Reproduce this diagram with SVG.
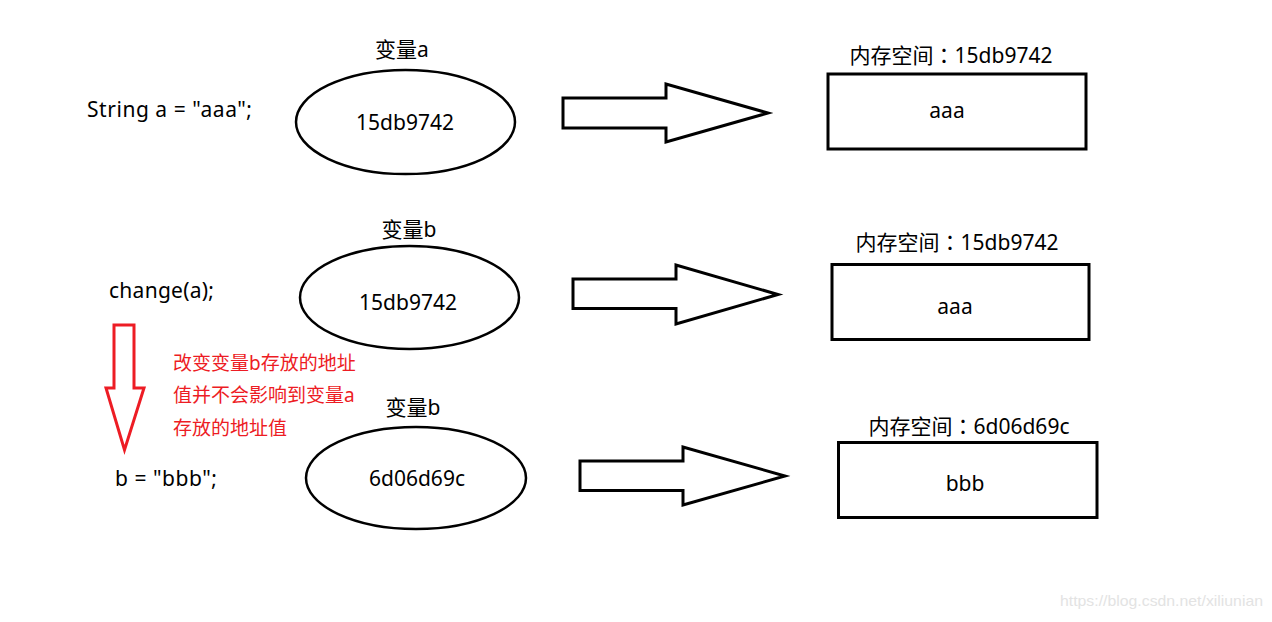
<svg xmlns="http://www.w3.org/2000/svg" width="1272" height="622" viewBox="0 0 1272 622">
<style>
text{font-family:"Noto Sans","Noto Sans CJK SC",sans-serif;fill:#000}
.t{font-size:21px}
.m{text-anchor:middle}
.c{font-family:"Noto Sans CJK TC",sans-serif}
.red{font-size:19px;fill:#ed1c24}
.ell{fill:#fff;stroke:#000;stroke-width:2.5}
.box{fill:#fff;stroke:#000;stroke-width:3}
.arr{fill:#fff;stroke:#000;stroke-width:3;stroke-linejoin:miter}
.rarr{fill:#fff;stroke:#ed1c24;stroke-width:3;stroke-linejoin:miter}
.wm{font-family:"Liberation Sans",sans-serif;font-size:15px;fill:#e3e3e3}
</style>
<rect width="1272" height="622" fill="#fff"/>
<g id="code">
<text class="t" x="87" y="117" textLength="165" lengthAdjust="spacing">String a = "aaa";</text>
<text class="t" x="109" y="298" textLength="105" lengthAdjust="spacing">change(a);</text>
<text class="t" x="115" y="486" textLength="102" lengthAdjust="spacing">b = "bbb";</text>
</g>
<g id="var-a">
<text class="t m" x="402" y="57">变量a</text>
<ellipse class="ell" cx="405.5" cy="122" rx="109.5" ry="52"/>
<text class="t m" x="405" y="130">15db9742</text>
</g>
<g id="var-b1">
<text class="t m" x="409" y="237">变量b</text>
<ellipse class="ell" cx="409.5" cy="297.5" rx="109.5" ry="51.5"/>
<text class="t m" x="408" y="310">15db9742</text>
</g>
<g id="var-b2">
<text class="t m" x="413" y="415">变量b</text>
<ellipse class="ell" cx="416" cy="478" rx="110" ry="51"/>
<text class="t m" x="417" y="486">6d06d69c</text>
</g>
<g id="mem1">
<text class="t m" x="951" y="63">内存空间<tspan class="c">：</tspan>15db9742</text>
<rect class="box" x="828" y="74" width="258" height="75"/>
<text class="t m" x="947" y="118">aaa</text>
</g>
<g id="mem2">
<text class="t m" x="957" y="250">内存空间<tspan class="c">：</tspan>15db9742</text>
<rect class="box" x="832" y="264.5" width="257" height="75"/>
<text class="t m" x="955" y="314">aaa</text>
</g>
<g id="mem3">
<text class="t m" x="969" y="434">内存空间<tspan class="c">：</tspan>6d06d69c</text>
<rect class="box" x="838.5" y="442.5" width="258.5" height="75"/>
<text class="t m" x="965" y="491">bbb</text>
</g>
<g id="note">
<text class="red" x="173" y="370">改变变量b存放的地址</text>
<text class="red" x="173" y="402">值并不会影响到变量a</text>
<text class="red" x="173" y="435">存放的地址值</text>
</g>
<g id="connectors">
<polygon class="arr" points="563,98 666,98 666,84 768,113 666,142 666,128 563,128"/>
<polygon class="arr" points="573,279 676,279 676,265 778,294.5 676,324 676,308.5 573,308.5"/>
<polygon class="arr" points="580,461 683,461 683,447 785,476 683,505 683,490.5 580,490.5"/>
<polygon class="rarr" points="114,325 134,325 134,388 144,388 124.5,450 106,388 114,388"/>
</g>
<text class="wm" x="1060" y="606" textLength="203" lengthAdjust="spacingAndGlyphs">https://blog.csdn.net/xiliunian</text>
</svg>
